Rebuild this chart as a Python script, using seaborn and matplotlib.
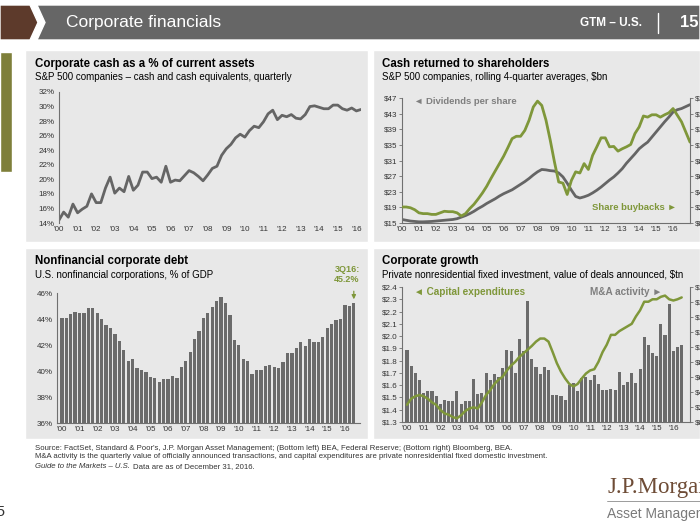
import numpy as np
import matplotlib
matplotlib.use('Agg')
import matplotlib.pyplot as plt
from matplotlib.patches import Rectangle, Polygon
import seaborn as sns

# ---- data ----
year_labels = ["'%02d" % y for y in range(0, 17)]

# corporate cash as % of current assets, 1Q00 - 2Q16
cash_pct = [14.4, 15.5, 14.8, 16.6, 15.4, 15.9, 16.3, 18.0, 16.8, 16.8, 18.8, 20.3,
            18.1, 18.8, 18.3, 20.4, 18.5, 19.2, 21.0, 21.0, 20.1, 20.3, 19.6, 21.8,
            19.6, 19.9, 19.8, 20.5, 21.2, 20.9, 20.4, 19.8, 20.6, 21.5, 21.8, 23.3,
            24.2, 24.8, 25.7, 26.2, 25.8, 26.7, 27.3, 27.1, 27.9, 29.0, 29.5, 28.2,
            28.8, 28.6, 28.9, 28.4, 28.3, 28.9, 30.0, 30.1, 29.9, 29.7, 29.7, 30.2,
            30.2, 29.7, 29.5, 29.8, 29.4, 29.6]

# dividends per share ($, left axis) and share buybacks ($bn, right axis)
dividends = [15.9, 15.7, 15.5, 15.4, 15.3, 15.3, 15.35, 15.4, 15.5, 15.6, 15.7, 15.8,
             15.9, 16.1, 16.5, 16.9, 17.4, 18.0, 18.7, 19.3, 20.0, 20.6, 21.2, 21.9,
             22.5, 23.0, 23.5, 24.2, 24.9, 25.6, 26.4, 27.3, 28.1, 28.7, 28.6, 28.4,
             28.3, 27.8, 26.8, 25.2, 23.4, 21.8, 21.4, 21.7, 22.1, 22.7, 23.4, 24.2,
             25.1, 26.0, 26.8, 27.8, 28.9, 30.3, 31.5, 32.7, 34.0, 34.9, 35.7, 37.0,
             38.3, 39.6, 40.9, 42.1, 43.4, 44.0, 44.3, 44.8, 45.3]
buybacks = [20.5, 20.5, 19.5, 17, 13, 12, 12, 11, 11, 13, 15, 14.5,
            14.5, 13, 9, 12, 18.5, 24, 31, 38.5, 47, 57, 66.5, 76,
            85.5, 96.5, 108, 111, 111, 118.5, 131.5, 148.5, 156, 150.5, 131.5, 106,
            78, 52.5, 51, 36.5, 54.5, 65.5, 64, 76, 68.5, 86.5, 97.5, 109,
            109, 97.5, 98, 92, 95, 97.5, 100.5, 114.5, 123, 137, 135.5, 138.5,
            138.5, 135.5, 138.5, 141, 146.5, 138, 129.5, 116.5, 103.5]

# nonfinancial corporate debt, % of GDP, 1Q00 - 3Q16
debt_gdp = [44.1, 44.1, 44.4, 44.55, 44.45, 44.5, 44.85, 44.85, 44.5, 44.0, 43.55, 43.3,
            42.85, 42.3, 41.65, 40.8, 40.9, 40.2, 40.1, 39.9, 39.55, 39.5, 39.15, 39.35,
            39.35, 39.6, 39.5, 40.3, 40.8, 41.5, 42.45, 43.1, 44.1, 44.45, 44.9, 45.4,
            45.7, 45.2, 44.3, 42.4, 42.0, 40.9, 40.8, 39.8, 40.1, 40.1, 40.4, 40.5,
            40.3, 40.2, 40.7, 41.4, 41.4, 41.8, 42.2, 41.9, 42.5, 42.2, 42.2, 42.6,
            43.3, 43.6, 43.9, 44.0, 45.1, 45.0, 45.2]

# capital expenditures ($tn, left axis) and M&A activity ($bn, right axis)
capex = [1.44, 1.49, 1.51, 1.52, 1.51, 1.49, 1.46, 1.44, 1.40, 1.37, 1.36, 1.34,
         1.33, 1.355, 1.39, 1.41, 1.42, 1.41, 1.46, 1.52, 1.56, 1.61, 1.645, 1.67,
         1.72, 1.76, 1.79, 1.83, 1.86, 1.89, 1.92, 1.955, 1.98, 1.98, 1.955, 1.87,
         1.78, 1.71, 1.655, 1.61, 1.59, 1.61, 1.655, 1.695, 1.72, 1.73, 1.79, 1.87,
         1.93, 2.01, 2.01, 2.04, 2.06, 2.08, 2.10, 2.16, 2.21, 2.28, 2.28, 2.30,
         2.30, 2.32, 2.33, 2.30, 2.29, 2.30, 2.315]
mna = [965, 753, 655, 556, 393, 409, 409, 344, 245, 295, 278, 278,
       409, 245, 278, 278, 573, 376, 393, 655, 556, 638, 605, 720,
       965, 949, 655, 1113, 949, 1620, 835, 736, 638, 736, 687, 360,
       360, 344, 295, 491, 524, 409, 589, 605, 556, 622, 507, 425,
       425, 442, 425, 671, 491, 540, 655, 524, 704, 1129, 1031, 916,
       884, 1309, 1162, 1571, 949, 998, 1031]

GREEN = '#7f973a'
GRAY_LINE = '#656565'
BAR = '#6b6b6b'
PANEL = '#e8e8e8'
TXT = '#333333'

sns.set_theme(style='white')
plt.rcParams['font.family'] = ['Liberation Sans', 'DejaVu Sans']

fig = plt.figure(figsize=(7, 5.25), dpi=100)
fig.patch.set_facecolor('white')


def fx(x):
    return x / 700


def fy(y):
    return 1 - y / 525


def axes_px(x0, y0, x1, y1):
    ax = fig.add_axes([fx(x0), fy(y1), (x1 - x0) / 700, (y1 - y0) / 525])
    ax.set_facecolor('none')
    return ax


def style(ax, sides):
    for s in ['top', 'right', 'left', 'bottom']:
        ax.spines[s].set_visible(s in sides)
        ax.spines[s].set_color('#707070')
        ax.spines[s].set_linewidth(0.8)
    ax.tick_params(labelsize=5.8, colors='#707070', labelcolor=TXT, length=2, width=0.6, pad=1.2)
    ax.set_xlabel('')
    ax.set_ylabel('')
    ax.grid(False)


def year_ticks(ax):
    ax.set_xticks(np.arange(0, 65, 4))
    ax.set_xticklabels(year_labels)
    ax.tick_params(axis='x', length=0, pad=2.5)


def add_patch(p):
    p.set_zorder(-5)
    fig.patches.append(p)


# ---- header ----
add_patch(Polygon([(fx(0), fy(5)), (fx(30), fy(5)), (fx(38), fy(22.5)),
                   (fx(30), fy(40)), (fx(0), fy(40))],
                  closed=True, transform=fig.transFigure, facecolor='#5d3a2b'))
add_patch(Polygon([(fx(37), fy(5)), (fx(700), fy(5)), (fx(700), fy(40)),
                   (fx(37), fy(40)), (fx(45), fy(22.5))],
                  closed=True, transform=fig.transFigure, facecolor='#666666'))
fig.text(fx(66), fy(22.5), 'Corporate financials', color='white', fontsize=12.5,
         va='center', ha='left')
fig.text(fx(642), fy(23), 'GTM – U.S.', color='white', fontsize=8.5, fontweight='bold',
         va='center', ha='right')
fig.lines.append(plt.Line2D([fx(658), fx(658)], [fy(13), fy(33)], transform=fig.transFigure,
                            color='white', linewidth=1))
fig.text(fx(680), fy(22.5), '15', color='white', fontsize=12, fontweight='bold',
         va='center', ha='left')

# left side tab
add_patch(Rectangle((fx(0), fy(172)), 12 / 700, 120 / 525, transform=fig.transFigure,
                    facecolor='#7e7f3a'))

# panel backgrounds
for (x0, y0, x1, y1) in [(25, 50, 368, 242), (373, 50, 700, 242),
                         (25, 248, 368, 439), (373, 248, 700, 439)]:
    add_patch(Rectangle((fx(x0), fy(y1)), (x1 - x0) / 700, (y1 - y0) / 525,
                        transform=fig.transFigure, facecolor=PANEL))


def titles(x, y, title, sub):
    fig.text(fx(x), fy(y), title, fontsize=8.3, fontweight='bold', color='black', va='center')
    fig.text(fx(x), fy(y + 13.5), sub, fontsize=7, color='black', va='center')


# ---- top left: corporate cash ----
titles(35, 64, 'Corporate cash as a % of current assets',
       'S&P 500 companies – cash and cash equivalents, quarterly')
ax1 = axes_px(59, 92, 361, 223)
sns.lineplot(x=np.arange(len(cash_pct)), y=cash_pct, ax=ax1, color=GRAY_LINE, linewidth=2)
ax1.set_ylim(14, 32)
ax1.set_xlim(0, len(cash_pct) - 1)
ax1.set_yticks(np.arange(14, 33, 2))
ax1.set_yticklabels(['%d%%' % v for v in range(14, 33, 2)])
style(ax1, ['left'])
year_ticks(ax1)

# ---- top right: cash returned ----
titles(382, 64, 'Cash returned to shareholders',
       'S&P 500 companies, rolling 4-quarter averages, $bn')
ax2 = axes_px(402, 98, 690, 223)
sns.lineplot(x=np.arange(len(dividends)), y=dividends, ax=ax2, color=GRAY_LINE, linewidth=2)
ax2.set_ylim(15, 47)
ax2.set_xlim(0, 68)
ax2.set_yticks(np.arange(15, 48, 4))
ax2.set_yticklabels(['$%d' % v for v in range(15, 48, 4)])
style(ax2, ['left', 'bottom'])
year_ticks(ax2)
ax2r = ax2.twinx()
sns.lineplot(x=np.arange(len(buybacks)), y=buybacks, ax=ax2r, color=GREEN, linewidth=2)
ax2r.set_ylim(0, 160)
ax2r.set_yticks(np.arange(0, 161, 20))
ax2r.set_yticklabels(['$%d' % v for v in range(0, 161, 20)])
style(ax2r, ['right'])
ax2.text(0.04, 0.97, '◄ Dividends per share', transform=ax2.transAxes, fontsize=6.8,
         fontweight='bold', color='#7f7f7f', va='center', family=['Liberation Sans', 'DejaVu Sans'])
ax2.text(0.955, 0.12, 'Share buybacks ►', transform=ax2.transAxes, fontsize=6.8,
         fontweight='bold', color=GREEN, va='center', ha='right', family=['Liberation Sans', 'DejaVu Sans'])

# ---- bottom left: corporate debt ----
titles(35, 261, 'Nonfinancial corporate debt', 'U.S. nonfinancial corporations, % of GDP')
ax3 = axes_px(57, 293, 360, 423)
sns.barplot(x=np.arange(len(debt_gdp)), y=debt_gdp, ax=ax3, color=BAR, saturation=1,
            width=0.74, edgecolor='none', linewidth=0)
ax3.set_ylim(36, 46)
ax3.set_xlim(-1.1, 67.4)
ax3.set_yticks(np.arange(36, 47, 2))
ax3.set_yticklabels(['%d%%' % v for v in range(36, 47, 2)])
style(ax3, ['left', 'bottom'])
year_ticks(ax3)
fig.text(fx(347), fy(270), '3Q16:', fontsize=6.5, fontweight='bold', color=GREEN, ha='center', va='center')
fig.text(fx(347), fy(280), '45.2%', fontsize=6.5, fontweight='bold', color=GREEN, ha='center', va='center')
ax3.annotate('', xy=(66, 45.3), xytext=(66, 46.35), annotation_clip=False,
             arrowprops=dict(arrowstyle='-|>', color=GREEN, lw=0.9, mutation_scale=6))

# ---- bottom right: corporate growth ----
titles(382, 261, 'Corporate growth',
       'Private nonresidential fixed investment, value of deals announced, $tn')
ax4 = axes_px(402, 287, 690, 422)
sns.barplot(x=np.arange(len(mna)), y=mna, ax=ax4, color=BAR, saturation=1,
            width=0.74, edgecolor='none', linewidth=0)
ax4.set_ylim(0, 1800)
ax4.set_xlim(-1.2, 68)
ax4l = ax4.twinx()
sns.lineplot(x=np.arange(len(capex)), y=capex, ax=ax4l, color=GREEN, linewidth=1.8)
ax4.set_yticks(np.arange(0, 1801, 200))
ax4.set_yticklabels(['${:,}'.format(v) for v in range(0, 1801, 200)])
ax4.yaxis.tick_right()
style(ax4, ['right', 'bottom'])
year_ticks(ax4)
ax4l.set_ylim(1.3, 2.4)
ax4l.set_yticks(np.round(np.arange(1.3, 2.41, 0.1), 1))
ax4l.set_yticklabels(['$%.1f' % v for v in np.arange(1.3, 2.41, 0.1)])
ax4l.yaxis.tick_left()
style(ax4l, ['left'])
ax4.text(0.04, 0.96, '◄ Capital expenditures', transform=ax4.transAxes, fontsize=7.2,
         fontweight='bold', color=GREEN, va='center', family=['Liberation Sans', 'DejaVu Sans'])
ax4.text(0.905, 0.96, 'M&A activity ►', transform=ax4.transAxes, fontsize=7.2,
         fontweight='bold', color='#7f7f7f', va='center', ha='right', family=['Liberation Sans', 'DejaVu Sans'])

# ---- footer ----
fig.text(fx(35), fy(448), "Source: FactSet, Standard & Poor's, J.P. Morgan Asset Management; "
         "(Bottom left) BEA, Federal Reserve; (Bottom right) Bloomberg, BEA.",
         fontsize=5.6, color=TXT, va='center')
fig.text(fx(35), fy(457), 'M&A activity is the quarterly value of officially announced transactions, '
         'and capital expenditures are private nonresidential fixed domestic investment.',
         fontsize=5.6, color=TXT, va='center')
guide = fig.text(fx(35), fy(466.5), 'Guide to the Markets – U.S.', fontsize=5.6, color=TXT,
                 va='center', style='italic')
renderer = fig.canvas.get_renderer()
gx = guide.get_window_extent(renderer).x1
fig.text(gx / 700 + 3 / 700, fy(466.5), 'Data are as of December 31, 2016.', fontsize=5.6,
         color=TXT, va='center')

fig.text(fx(6), fy(512), '15', fontsize=11, color='#333333', ha='right', va='center')
fig.text(fx(607), fy(487), 'J.P.Morgan', fontsize=16.5, color='#6e4c36', va='center',
         family=['Liberation Serif', 'DejaVu Serif'])
fig.lines.append(plt.Line2D([fx(607), fx(700)], [fy(501), fy(501)], transform=fig.transFigure,
                            color='#8c8c8c', linewidth=0.6))
fig.text(fx(607), fy(514), 'Asset Management', fontsize=10, color='#7a7a7a', va='center')

fig.savefig('out.png', dpi=100, facecolor='white')
